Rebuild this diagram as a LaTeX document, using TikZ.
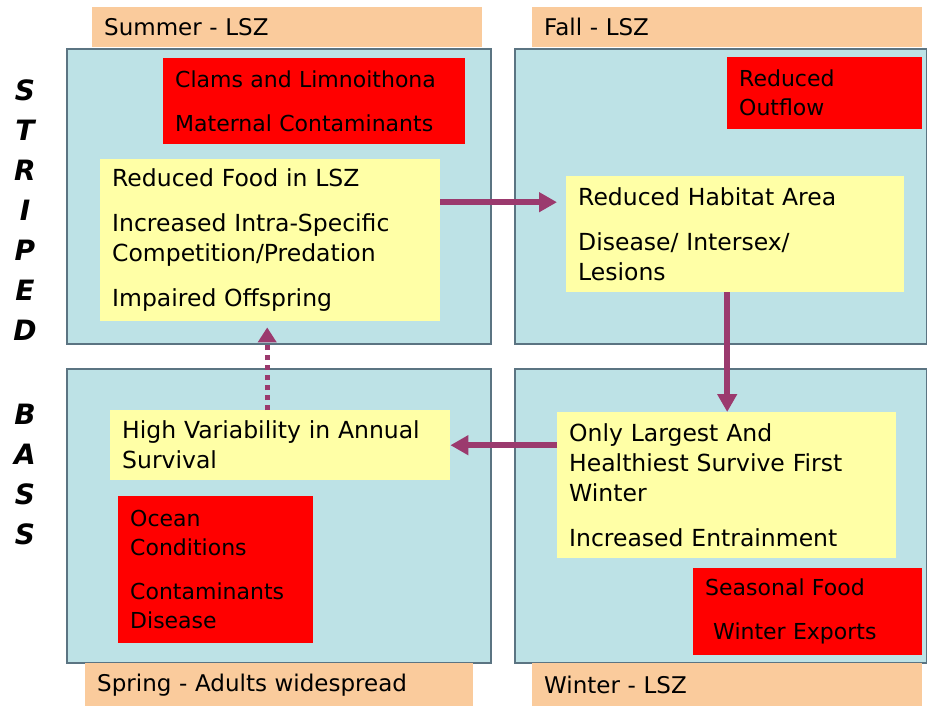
\documentclass[tikz,border=0pt]{standalone}
\usepackage{fontspec}
\setmainfont{DejaVu Sans}
\usetikzlibrary{arrows.meta}

\definecolor{panelblue}{HTML}{BDE2E6}
\definecolor{panelline}{HTML}{5B7482}
\definecolor{peach}{HTML}{FACB9C}
\definecolor{notepad}{HTML}{FFFFA6}
\definecolor{alarmred}{HTML}{FF0000}
\definecolor{flowpurple}{HTML}{9B3A6E}

\tikzset{
  panel/.style={draw=panelline, line width=1.2pt, fill=panelblue},
  season/.style={fill=peach, anchor=north west, text width=366pt, minimum height=40pt,
    inner xsep=12pt, inner ysep=0pt, align=left, font=\fontsize{23}{28}\selectfont},
  effect/.style={fill=notepad, anchor=north west, inner xsep=12pt, inner ysep=0pt,
    align=left, font=\fontsize{23.5}{30}\selectfont},
  driver/.style={fill=alarmred, anchor=north west, inner xsep=12pt, inner ysep=0pt,
    align=left, font=\fontsize{22}{29}\selectfont},
  flow/.style={draw=flowpurple, line width=6pt, -{Triangle[length=18pt,width=19pt]}},
  letter/.style={font=\fontsize{28}{28}\selectfont\bfseries\itshape}
}

\begin{document}
\begin{tikzpicture}[x=1pt, y=-1pt]

    \useasboundingbox (0,0) rectangle (927,706);

    % The four season panels
    \draw[panel] (67,49) rectangle (491,344);
    \draw[panel] (515,49) rectangle (927,344);
    \draw[panel] (67,369) rectangle (491,663);
    \draw[panel] (515,369) rectangle (927,663);

    % Season labels
    \node[season] (summer) at (92,7) {Summer - LSZ};
    \node[season] (fall) at (532,7) {Fall - LSZ};
    \node[season, text width=364pt, minimum height=43pt] (spring) at (85,663) {Spring - Adults widespread};
    \node[season, minimum height=43pt] (winter) at (532,663) {Winter - LSZ};

    % Side title
    \foreach \ch [count=\i] in {S,T,R,I,P,E,D}
        \node[letter] (s\i) at (25,50+40*\i) {\ch};
    \foreach \ch [count=\i] in {B,A,S,S}
        \node[letter] (b\i) at (25,374+40*\i) {\ch};

    % Drivers (red)
    \node[driver, text width=278pt, minimum height=86pt] (clams) at (163,58)
        {Clams and Limnoithona\\[15pt]Maternal Contaminants};
    \node[driver, text width=171pt, minimum height=72pt] (outflow) at (727,57)
        {Reduced\\Outflow};
    \node[driver, text width=171pt, minimum height=147pt] (ocean) at (118,496)
        {Ocean\\Conditions\\[15pt]Contaminants\\Disease};
    \node[driver, text width=205pt, minimum height=87pt] (seasonal) at (693,568)
        {Seasonal Food\\[15pt]\hspace*{8pt}Winter Exports};

    % Effects (yellow)
    \node[effect, text width=316pt, minimum height=162pt] (food) at (100,159)
        {Reduced Food in LSZ\\[15pt]Increased Intra-Specific\\Competition/Predation\\[15pt]Impaired Offspring};
    \node[effect, text width=314pt, minimum height=116pt] (habitat) at (566,176)
        {Reduced Habitat Area\\[15pt]Disease/ Intersex/\\Lesions};
    \node[effect, text width=316pt, minimum height=70pt] (survival) at (110,410)
        {High Variability in Annual\\Survival};
    \node[effect, text width=315pt, minimum height=146pt] (largest) at (557,412)
        {Only Largest And\\Healthiest Survive First\\Winter\\[15pt]Increased Entrainment};

    % Cycle arrows
    \coordinate (fa) at ([yshift=38pt]food.east);
    \coordinate (ha) at ([xshift=-8pt]habitat.south);
    \coordinate (sa) at ([xshift=-13pt]survival.north);
    \draw[flow, shorten >=9pt] (fa) -- (fa -| habitat.west);
    \draw[flow] (ha) -- (ha |- largest.north);
    \draw[flow] (survival.east -| largest.west) -- (survival.east);
    \draw[flow, line width=5pt, dash pattern=on 5pt off 5pt, shorten >=6pt,
        -{Triangle[length=15pt,width=18pt]}] (sa) -- (sa |- food.south);

\end{tikzpicture}
\end{document}
